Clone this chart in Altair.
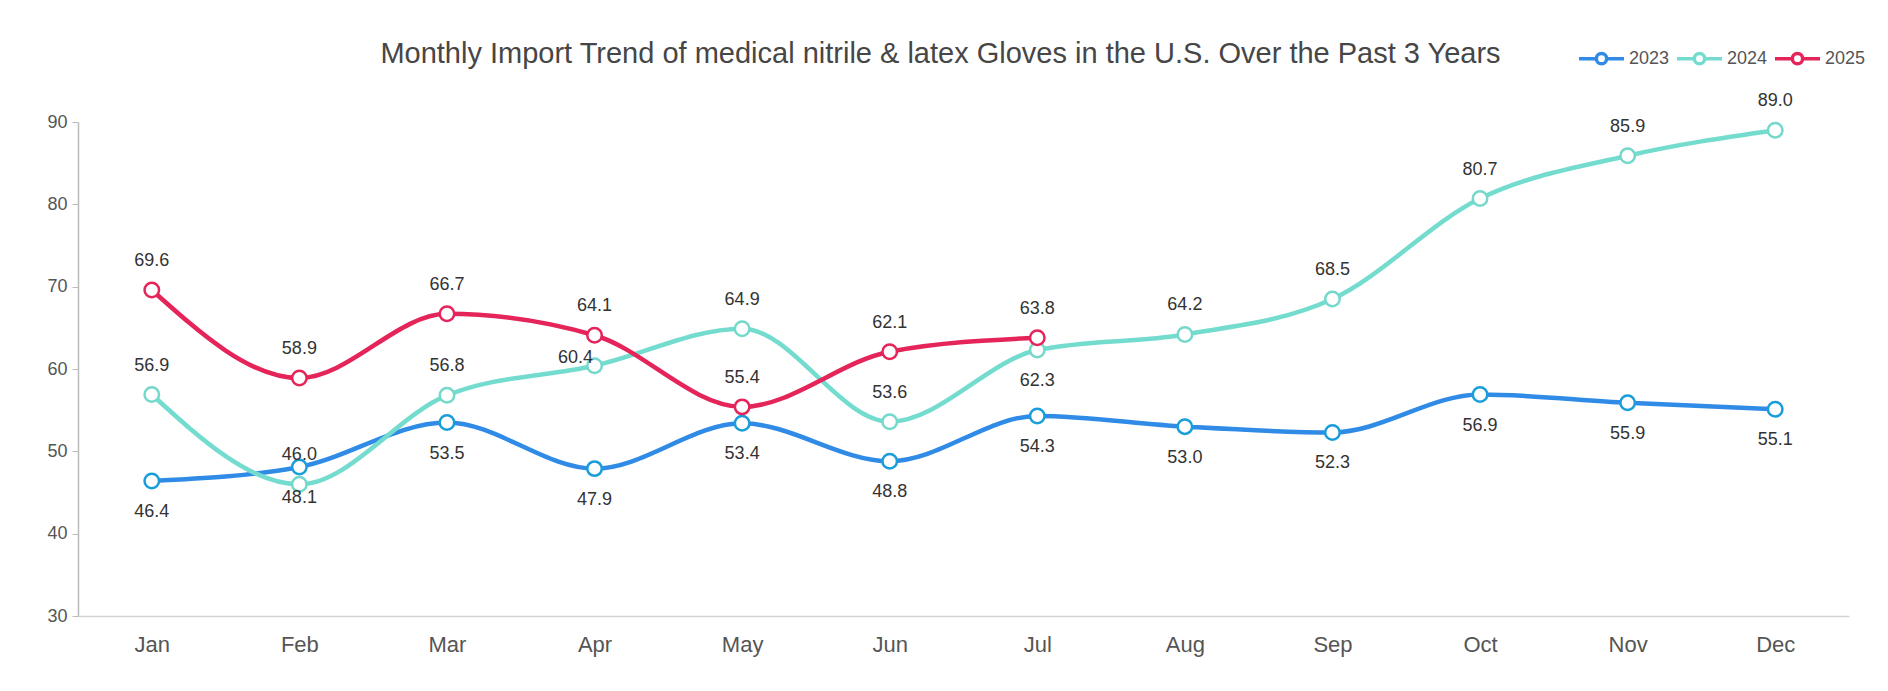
import altair as alt
import pandas as pd

months = ["Jan", "Feb", "Mar", "Apr", "May", "Jun", "Jul", "Aug", "Sep", "Oct", "Nov", "Dec"]
v2023 = [46.4, 48.1, 53.5, 47.9, 53.4, 48.8, 54.3, 53.0, 52.3, 56.9, 55.9, 55.1]
v2024 = [56.9, 46.0, 56.8, 60.4, 64.9, 53.6, 62.3, 64.2, 68.5, 80.7, 85.9, 89.0]
v2025 = [69.6, 58.9, 66.7, 64.1, 55.4, 62.1, 63.8]
years = ["2023", "2024", "2025"]
y_ticks = [30, 40, 50, 60, 70, 80, 90]

line_colors = ["#2F8BE6", "#74DCCE", "#E5245A"]
point_colors = ["#1A9ED9", "#74D8CB", "#E5245A"]

rows = []
for yr, vals in zip(years, [v2023, v2024, v2025]):
    for m, v in zip(months, vals):
        rows.append({"month": m, "year": yr, "value": v})
df = pd.DataFrame(rows)

FONT = "Liberation Sans"

x_enc = alt.X(
    "month:N",
    sort=months,
    scale=alt.Scale(type="point", padding=0.5),
    axis=alt.Axis(
        title=None, ticks=False, labelFontSize=22, labelColor="#555555",
        labelPadding=18, domainColor="#d4d4d4", domainWidth=1.5,
        labelAngle=0, labelFont=FONT, grid=False,
    ),
)
y_enc = alt.Y(
    "value:Q",
    scale=alt.Scale(domain=[30, 90], nice=False, zero=False),
    axis=alt.Axis(
        title=None, values=y_ticks, grid=False, tickSize=6, tickColor="#bbbbbb",
        domainColor="#bbbbbb", domainWidth=1.5, labelFontSize=18,
        labelColor="#555555", labelPadding=5, labelFont=FONT,
    ),
)

base = alt.Chart(df).encode(x=x_enc, y=y_enc)

legend_path = ("M-1,0L-0.25,0M0.25,0L1,0"
               "M-0.23,0A0.23,0.23,0,1,0,0.23,0A0.23,0.23,0,1,0,-0.23,0Z")

lines = base.mark_line(interpolate="monotone", strokeWidth=4.5).encode(
    stroke=alt.Stroke(
        "year:N",
        scale=alt.Scale(domain=years, range=line_colors),
        legend=alt.Legend(
            title=None, orient="none", direction="horizontal",
            legendX=1499, legendY=-88,
            symbolType=legend_path, symbolSize=2025, symbolStrokeWidth=3.5,
            symbolFillColor="white", labelFontSize=18, labelColor="#555555",
            labelFont=FONT, labelOffset=3, columnPadding=0,
        ),
    )
)

points = base.mark_point(
    shape="circle", filled=True, fill="white", size=210, strokeWidth=2.5, opacity=1
).encode(
    stroke=alt.Stroke("year:N", scale=alt.Scale(domain=years, range=point_colors), legend=None)
)

below_cond = "datum.year == '2023' || (datum.year == '2024' && datum.month == 'Jul')"
shifted_cond = "datum.year == '2024' && datum.month == 'Apr'"

text_style = dict(fontSize=18, color="#333333", font=FONT, baseline="middle")

labels_below = base.transform_filter(below_cond).mark_text(dy=31, **text_style).encode(
    text=alt.Text("value:Q", format=".1f")
)
labels_above = base.transform_filter(
    "!(" + below_cond + ") && !(" + shifted_cond + ")"
).mark_text(dy=-29, **text_style).encode(text=alt.Text("value:Q", format=".1f"))
labels_shifted = base.transform_filter(shifted_cond).mark_text(
    dx=-19, dy=-8, **text_style
).encode(text=alt.Text("value:Q", format=".1f"))

chart = alt.layer(lines, points, labels_below, labels_above, labels_shifted).resolve_scale(
    stroke="independent"
).properties(
    width=1771,
    height=494,
    autosize=alt.AutoSizeParams(type="none"),
    padding={"left": 70, "top": 114, "right": 20, "bottom": 60},
    title=alt.TitleParams(
        "Monthly Import Trend of medical nitrile & latex Gloves in the U.S. Over the Past 3 Years",
        fontSize=29, color="#464646", font=FONT, fontWeight="normal",
        anchor="middle", dx=-23, dy=63, offset=28,
    ),
).configure_view(stroke=None)

chart.save("out.html", embed_options={"renderer": "svg", "actions": False})
